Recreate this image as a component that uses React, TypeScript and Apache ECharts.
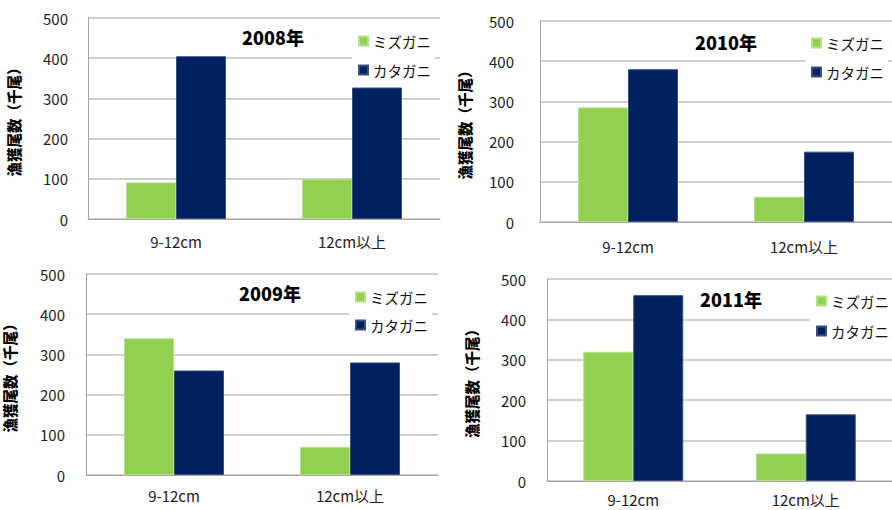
import React, { useEffect, useRef } from "react";
import * as echarts from "echarts";

const categories = ["9-12cm", "12cm以上"];
const seriesNames = ["ミズガニ", "カタガニ"];
const years = ["2008年", "2010年", "2009年", "2011年"];
const mizu2008 = [91, 100];
const kata2008 = [405, 327];
const mizu2010 = [285, 63];
const kata2010 = [380, 175];
const mizu2009 = [340, 70];
const kata2009 = [260, 280];
const mizu2011 = [320, 68];
const kata2011 = [460, 165];
const yTicks = [0, 100, 200, 300, 400, 500];

const GREEN = "#92D050";
const NAVY = "#002060";
const FONT = "'Noto Sans CJK JP', 'Noto Sans', sans-serif";

const panels = [
  { mizu: mizu2008, kata: kata2008, grid: { left: 88, top: 18, width: 352, height: 201 }, yMargin: 20, xMargin: 15, nameGap: 67, title: [273, 37], legend: { left: 352, top: 26, gap: 11 } },
  { mizu: mizu2010, kata: kata2010, grid: { left: 540, top: 21, width: 352, height: 201 }, yMargin: 26, xMargin: 17, nameGap: 68, title: [726, 42], legend: { left: 805, top: 28, gap: 11 } },
  { mizu: mizu2009, kata: kata2009, grid: { left: 86, top: 274, width: 352, height: 201 }, yMargin: 21, xMargin: 13, nameGap: 69, title: [270, 293], legend: { left: 349, top: 282, gap: 10 } },
  { mizu: mizu2011, kata: kata2011, grid: { left: 547, top: 279, width: 352, height: 202 }, yMargin: 21, xMargin: 11, nameGap: 68, title: [731, 299], legend: { left: 810, top: 286, gap: 12 } },
];

export default function App() {
  const ref = useRef<HTMLDivElement>(null);
  useEffect(() => {
    document.body.style.margin = "0";
    if (!ref.current) return;
    const chart = echarts.init(ref.current, null, { renderer: "svg" });
    const option: any = {
      animation: false,
      backgroundColor: "#ffffff",
      textStyle: { fontFamily: FONT },
      grid: panels.map((p) => ({ ...p.grid, containLabel: false })),
      xAxis: panels.map((p, i) => ({
        type: "category",
        gridIndex: i,
        data: categories,
        axisLine: { show: true, lineStyle: { color: "#A6A6A6", width: 1 } },
        axisTick: { show: false },
        axisLabel: { margin: p.xMargin, fontSize: 15, color: "#222", fontFamily: FONT },
      })),
      yAxis: panels.map((p, i) => ({
        type: "value",
        gridIndex: i,
        min: yTicks[0],
        max: yTicks[yTicks.length - 1],
        interval: 100,
        name: "漁獲尾数（千尾）",
        nameLocation: "middle",
        nameRotate: 90,
        nameGap: p.nameGap,
        nameTextStyle: { fontSize: 14.5, fontWeight: 900, color: "#000", fontFamily: FONT },
        axisLine: { show: true, lineStyle: { color: "#A6A6A6", width: 1 } },
        axisTick: { show: false },
        axisLabel: { margin: p.yMargin, fontSize: 15, color: "#222", fontFamily: FONT },
        splitLine: { show: true, lineStyle: { color: "#BFBFBF", width: 1.5 } },
      })),
      legend: panels.map((p) => ({
        data: seriesNames,
        orient: "vertical",
        left: p.legend.left,
        top: p.legend.top,
        itemGap: p.legend.gap,
        itemWidth: 9,
        itemHeight: 9,
        icon: "rect",
        backgroundColor: "#ffffff",
        padding: [6, 4, 6, 6],
        selectedMode: false,
        textStyle: { fontSize: 14.5, lineHeight: 18, color: "#111", fontFamily: FONT },
      })),
      graphic: panels.map((p, i) => ({
        type: "text",
        x: p.title[0],
        y: p.title[1],
        z: 10,
        style: {
          text: years[i],
          fontSize: 18,
          fontWeight: 900,
          fill: "#000",
          fontFamily: FONT,
          textAlign: "center",
          textVerticalAlign: "middle",
        },
      })),
      series: panels.flatMap((p, i) => [
        {
          name: seriesNames[0],
          type: "bar",
          xAxisIndex: i,
          yAxisIndex: i,
          data: p.mizu,
          barWidth: 50,
          barGap: "0%",
          itemStyle: { color: GREEN, borderColor: "#B4E08A", borderWidth: 1 },
        },
        {
          name: seriesNames[1],
          type: "bar",
          xAxisIndex: i,
          yAxisIndex: i,
          data: p.kata,
          barWidth: 50,
          barGap: "0%",
          itemStyle: { color: NAVY, borderColor: "#3A5080", borderWidth: 1 },
        },
      ]),
    };
    chart.setOption(option);
    return () => chart.dispose();
  }, []);
  return <div ref={ref} style={{ width: 892, height: 510 }} />;
}
